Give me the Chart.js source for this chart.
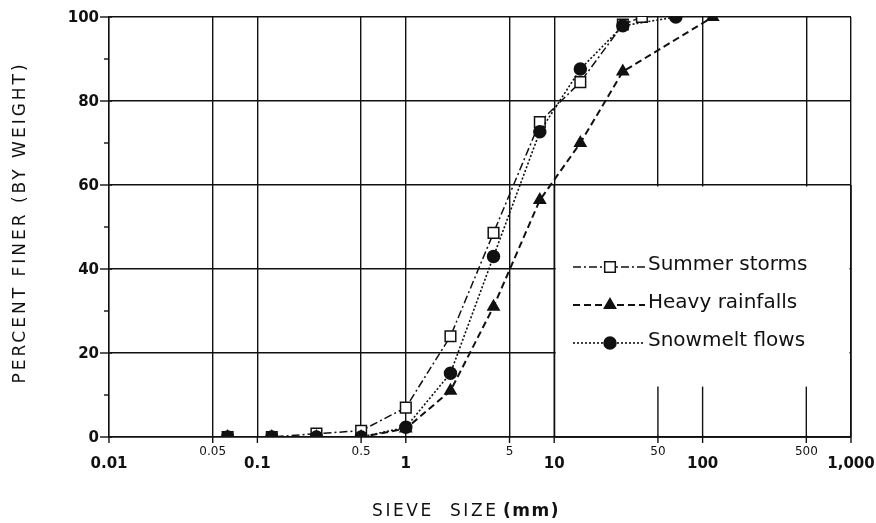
<!DOCTYPE html>
<html><head><meta charset="utf-8">
<script src="https://cdn.jsdelivr.net/npm/chart.js@4/dist/chart.umd.min.js"></script>
<style>html,body{margin:0;padding:0;background:#fff;}canvas{display:block;}</style>
</head><body>
<canvas id="c" width="876" height="523"></canvas>
<script>
// ---- data ----
const seriesNames = ['Summer storms', 'Heavy rainfalls', 'Snowmelt flows'];
const summerSize = [0.063, 0.125, 0.25, 0.5, 1, 2, 3.9, 8, 15, 29, 39];
const summerPct  = [0, 0, 0.8, 1.5, 7, 24, 48.6, 75, 84.5, 98.2, 100];
const heavySize  = [0.063, 0.125, 0.25, 0.5, 1, 2, 3.9, 8, 15, 29, 117];
const heavyPct   = [0, 0, 0, 0, 2, 11, 31, 56.4, 70, 87, 100];
const snowSize   = [0.063, 0.125, 0.25, 0.5, 1, 2, 3.9, 8, 15, 29, 66];
const snowPct    = [0, 0, 0, 0, 2.3, 15.2, 43, 72.7, 87.6, 97.9, 100];

const xTickValues = [0.01, 0.05, 0.1, 0.5, 1, 5, 10, 50, 100, 500, 1000];
const xTickLabels = ['0.01', '0.05', '0.1', '0.5', '1', '5', '10', '50', '100', '500', '1,000'];
const xTickMajor  = [true, false, true, false, true, false, true, false, true, false, true];
const yTickValues = [0, 10, 20, 30, 40, 50, 60, 70, 80, 90, 100];
const yLabelStep = 20;
const xTitle = 'SIEVE  SIZE';
const xTitleUnit = '(mm)';
const yTitle = 'PERCENT FINER (BY WEIGHT)';

// ---- styles ----
const INK = '#111';
const FONT = '"DejaVu Sans", sans-serif';
const GRID_W = 1.4;
const styles = [
  {dash: [8, 3, 2, 3], width: 1.5, pointStyle: 'rect', radius: 7.5, fill: '#fff', order: 2},
  {dash: [7, 4], width: 2, pointStyle: 'triangle', radius: 6.5, fill: INK, order: 1},
  {dash: [2, 2], width: 1.6, pointStyle: 'circle', radius: 6, fill: INK, order: 0}
];
const sizes = [summerSize, heavySize, snowSize];
const pcts = [summerPct, heavyPct, snowPct];

function pts(xs, ys) { return xs.map((x, i) => ({x: x, y: ys[i]})); }

const datasets = seriesNames.map((name, i) => ({
  label: name,
  data: pts(sizes[i], pcts[i]),
  borderColor: INK,
  borderWidth: styles[i].width,
  borderDash: styles[i].dash,
  pointStyle: styles[i].pointStyle,
  pointRadius: styles[i].radius,
  pointBackgroundColor: styles[i].fill,
  pointBorderColor: INK,
  pointBorderWidth: 1.5,
  tension: 0,
  fill: false,
  order: styles[i].order
}));

function vline(ctx, x, y0, y1) { ctx.beginPath(); ctx.moveTo(x, y0); ctx.lineTo(x, y1); ctx.stroke(); }

const decor = {
  id: 'decor',
  beforeDatasetsDraw(chart) {
    const ctx = chart.ctx, xs = chart.scales.x, ys = chart.scales.y;
    const xl = xs.getPixelForValue(10), xr = xs.getPixelForValue(xs.max);
    const yt = ys.getPixelForValue(60), yb = ys.getPixelForValue(0);
    ctx.save();
    // blank area behind the legend
    ctx.fillStyle = '#fff';
    ctx.fillRect(xl + 1.5, yt + 1.5, xr - xl - 3, yb - yt - 3);
    ctx.strokeStyle = INK; ctx.lineWidth = GRID_W;
    // restore frame lines around it
    vline(ctx, xl, yt, yb);
    vline(ctx, xr, yt, yb);
    ctx.beginPath(); ctx.moveTo(xl, yb); ctx.lineTo(xr, yb); ctx.stroke();
    // short stubs of the grid lines inside that area
    xTickValues.forEach(v => {
      if (v > 10 && v < xs.max) {
        const x = xs.getPixelForValue(v);
        vline(ctx, x, yb, ys.getPixelForValue(12));
      }
    });
    ctx.restore();
  },
  afterDraw(chart) {
    const ctx = chart.ctx, xs = chart.scales.x, ys = chart.scales.y;
    const ca = chart.chartArea;
    ctx.save();
    ctx.strokeStyle = INK; ctx.fillStyle = INK; ctx.lineWidth = GRID_W;
    // y ticks + labels
    ctx.font = 'bold 15px ' + FONT;
    ctx.textAlign = 'right'; ctx.textBaseline = 'middle';
    yTickValues.forEach(v => {
      const y = ys.getPixelForValue(v);
      const major = v % yLabelStep === 0;
      ctx.beginPath();
      ctx.moveTo(ca.left - (major ? 9 : 5), y);
      ctx.lineTo(ca.left + (major ? 3 : 0), y);
      ctx.stroke();
      if (major) ctx.fillText(String(v), ca.left - 10, y + 1);
    });
    // x ticks + labels
    ctx.textAlign = 'center';
    xTickValues.forEach((v, i) => {
      const x = xs.getPixelForValue(v);
      vline(ctx, x, ca.bottom, ca.bottom + 6);
      if (xTickMajor[i]) {
        ctx.font = 'bold 15px ' + FONT;
        ctx.fillText(xTickLabels[i], x, ca.bottom + 27);
      } else {
        ctx.font = '12px ' + FONT;
        ctx.fillText(xTickLabels[i], x, ca.bottom + 15);
      }
    });
    // x title
    ctx.textAlign = 'left';
    ctx.font = '17px ' + FONT;
    ctx.letterSpacing = '2.6px';
    ctx.fillText(xTitle, 372, 512);
    ctx.font = 'bold 17px ' + FONT;
    ctx.letterSpacing = '1.5px';
    ctx.fillText(xTitleUnit, 503, 512);
    ctx.letterSpacing = '0px';
    // y title
    ctx.save();
    ctx.translate(21, 224);
    ctx.rotate(-Math.PI / 2);
    ctx.textAlign = 'center';
    ctx.font = '17px ' + FONT;
    ctx.letterSpacing = '3px';
    ctx.fillText(yTitle, 1.5, 0);
    ctx.restore();
    // legend
    const rowY = [267, 305, 343];
    seriesNames.forEach((name, i) => {
      const st = styles[i], y = rowY[i];
      ctx.save();
      ctx.lineWidth = st.width;
      ctx.setLineDash(st.dash);
      ctx.beginPath();
      ctx.moveTo(573, y); ctx.lineTo(645, y);
      ctx.stroke();
      ctx.setLineDash([]);
      ctx.fillStyle = st.fill; ctx.strokeStyle = INK; ctx.lineWidth = 1.5;
      Chart.helpers.drawPoint(ctx, {pointStyle: st.pointStyle, radius: st.radius, borderWidth: 1.5, rotation: 0}, 610, y);
      ctx.restore();
      ctx.fillStyle = INK;
      ctx.font = '20px ' + FONT;
      ctx.textAlign = 'left'; ctx.textBaseline = 'middle';
      ctx.fillText(name, 648, y - 2);
    });
    ctx.restore();
  }
};

new Chart(document.getElementById('c'), {
  type: 'line',
  data: {datasets: datasets},
  options: {
    responsive: false, animation: false, devicePixelRatio: 1,
    layout: {padding: {left: 109, right: 25, top: 17, bottom: 86}},
    plugins: {legend: {display: false}, tooltip: {enabled: false}},
    scales: {
      x: {
        type: 'logarithmic', min: 0.01, max: 1000,
        afterBuildTicks(s) { s.ticks = xTickValues.map(v => ({value: v})); },
        afterFit(s) { s.height = 0; },
        ticks: {display: false},
        grid: {color: INK, lineWidth: GRID_W, drawTicks: false},
        border: {display: true, color: INK, width: GRID_W}
      },
      y: {
        min: 0, max: 100,
        afterBuildTicks(s) { s.ticks = yTickValues.map(v => ({value: v})); },
        afterFit(s) { s.width = 0; },
        ticks: {display: false},
        grid: {
          color: c => (c.tick && c.tick.value % yLabelStep === 0) ? INK : 'rgba(0,0,0,0)',
          lineWidth: GRID_W, drawTicks: false
        },
        border: {display: true, color: INK, width: GRID_W}
      }
    }
  },
  plugins: [decor]
});
</script>
</body></html>
